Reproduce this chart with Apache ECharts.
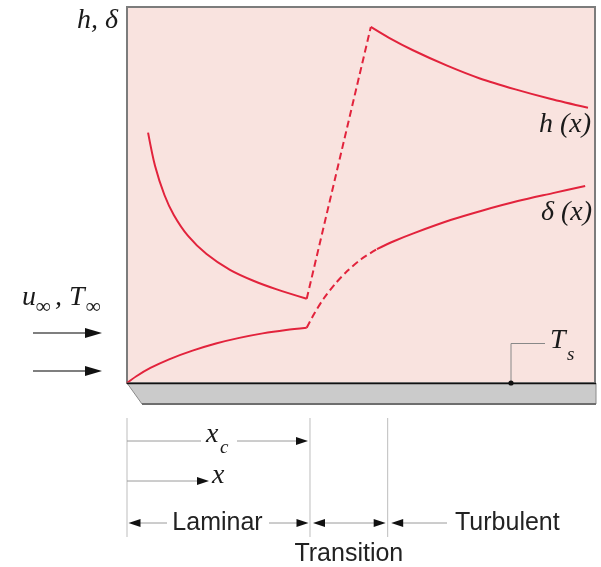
<!DOCTYPE html>
<html><head><meta charset="utf-8">
<script src="https://cdn.jsdelivr.net/npm/echarts@6/dist/echarts.min.js"></script>
<style>html,body{margin:0;padding:0;background:#fff}#c{width:601px;height:567px}</style>
</head><body><div id="c"></div>
<script>
// ---- data (x: distance along plate, y: h or delta, arbitrary units 0..100) ----
const hLaminar = [[4.5,66.6],[6,57.7],[8,50.0],[10,44.7],[13,39.2],[17,34.3],[22,30.1],[27,27.2],[32,24.9],[38.4,22.4]];
const hTransition = [[38.4,22.4],[52.1,94.7]];
const hTurbulent = [[52.1,94.7],[56,91.8],[61.1,88.5],[68.4,84.4],[75.4,81.0],[83,78.1],[90.4,75.6],[98.5,73.2]];
const dLaminar = [[0,0],[2,1.8],[5,4.0],[9,6.3],[14,8.6],[19,10.5],[24,12.0],[29,13.2],[34,14.1],[38.4,14.7]];
const dTransition = [[38.4,14.7],[40,18.4],[42,22.4],[44.5,26.4],[47,29.7],[50,32.9],[53.4,35.6]];
const dTurbulent = [[53.4,35.6],[57,37.7],[61.2,39.8],[69.3,43.4],[76,45.9],[83.5,48.4],[91,50.5],[97.9,52.4]];
const regionBounds = [0, 39.1, 55.7];   // leading edge, x_c, end of transition
const regionNames = ['Laminar','Transition','Turbulent'];

const RED = '#e2233c';
const chart = echarts.init(document.getElementById('c'), null, {renderer:'canvas'});
function ser(data, dashed){
  return {type:'line', data:data, showSymbol:false, symbol:'none',
    smooth: data.length<3 ? false : 0.3,
    lineStyle:{color:RED, width:2, type: dashed ? [7,4] : 'solid'}, z:3, silent:true};
}
chart.setOption({
  animation:false,
  grid:{left:127, top:7, width:468, height:376, show:true, backgroundColor:'#f9e3df', borderColor:'#7c7c7c', borderWidth:2},
  xAxis:{type:'value', min:0, max:100, show:false},
  yAxis:{type:'value', min:0, max:100, show:false},
  series:[ser(hLaminar,false), ser(hTransition,true), ser(hTurbulent,false),
          ser(dLaminar,false), ser(dTransition,true), ser(dTurbulent,false)]
});

const px = v => chart.convertToPixel({gridIndex:0}, [v,0])[0];
const bx = regionBounds.map(px);
const yBase = chart.convertToPixel({gridIndex:0}, [0,0])[1];
const xEnd = px(100);

const G = [];
const serif = {fontFamily:'Liberation Serif', fontStyle:'italic', fill:'#1a1a1a'};
const sans = {fontFamily:'Liberation Sans', fill:'#222', fontSize:25};
function txt(t, x, y, size, align, base, st){
  G.push({type:'text', z:100, style:Object.assign({text:t, x:x, y:y, fontSize:size, textAlign:align||'left', textVerticalAlign:base||'bottom'}, st||serif)});
}
function line(x1,y1,x2,y2,color,w){
  G.push({type:'line', z:100, shape:{x1:x1,y1:y1,x2:x2,y2:y2}, style:{stroke:color, lineWidth:w||1}});
}
function head(tipX, y, dir, len, half){
  G.push({type:'polygon', z:101, shape:{points:[[tipX,y],[tipX-dir*len,y-half],[tipX-dir*len,y+half]]}, style:{fill:'#111'}});
}

// plate
G.push({type:'polygon', z:90, shape:{points:[[bx[0],yBase],[xEnd+1,yBase],[xEnd+1,404],[142,404]]}, style:{fill:'#cbcbcb', stroke:'#8a8a8a', lineWidth:1}});
line(142,404,xEnd+1,404,'#6e6e6e',2);
line(bx[0],yBase+0.5,xEnd+1,yBase+0.5,'#111',1.6);

// axis label
txt('h, δ', 118, 35, 28, 'right', 'bottom');
// curve labels
txt('h (x)', 591, 139, 28, 'right', 'bottom');
txt('δ (x)', 592, 227, 28, 'right', 'bottom');

// free stream
txt('u', 22, 312, 28); txt('∞', 36, 318, 21); txt(',', 55, 312, 28);
txt('T', 69, 312, 28); txt('∞', 86, 318, 21);
[333, 371].forEach(y => { line(33, y, 86, y, '#555', 1.5); head(102, y, 1, 17, 5); });

// T_s leader
line(511, yBase, 511, 343.5, '#888', 1);
line(511, 343.5, 545, 343.5, '#888', 1);
G.push({type:'circle', z:102, shape:{cx:511, cy:yBase, r:2.6}, style:{fill:'#111'}});
txt('T', 550, 355, 28); txt('s', 567, 364, 19);

// region separators
bx.forEach(x => line(x, 418, x, 537, '#bdbdbd', 1));

const gray = '#9a9a9a';
// x_c
line(bx[0], 441, 201, 441, gray, 1); line(237, 441, bx[1]-10, 441, gray, 1); head(bx[1]-2, 441, 1, 12, 4);
txt('x', 206, 449, 28); txt('c', 220, 457, 19);
// x
line(bx[0], 481, 200, 481, gray, 1); head(209, 481, 1, 12, 4);
txt('x', 212, 490, 28);
// Laminar
const yr = 523;
head(bx[0]+1.5, yr, -1, 12, 4); line(bx[0]+10, yr, 167, yr, gray, 1);
line(269, yr, bx[1]-8, yr, gray, 1); head(bx[1]-1.5, yr, 1, 12, 4);
txt(regionNames[0], (bx[0]+bx[1])/2 - 1, yr, 25, 'center', 'middle', sans);
// Transition
head(bx[1]+3, yr, -1, 12, 4); line(bx[1]+10, yr, bx[2]-10, yr, gray, 1); head(bx[2]-2, yr, 1, 12, 4);
txt(regionNames[1], (bx[1]+bx[2])/2, 554, 25, 'center', 'middle', sans);
// Turbulent
head(bx[2]+3.5, yr, -1, 12, 4); line(bx[2]+10, yr, 447, yr, gray, 1);
txt(regionNames[2], 455, yr, 25, 'left', 'middle', sans);

chart.setOption({graphic: G});
</script></body></html>
